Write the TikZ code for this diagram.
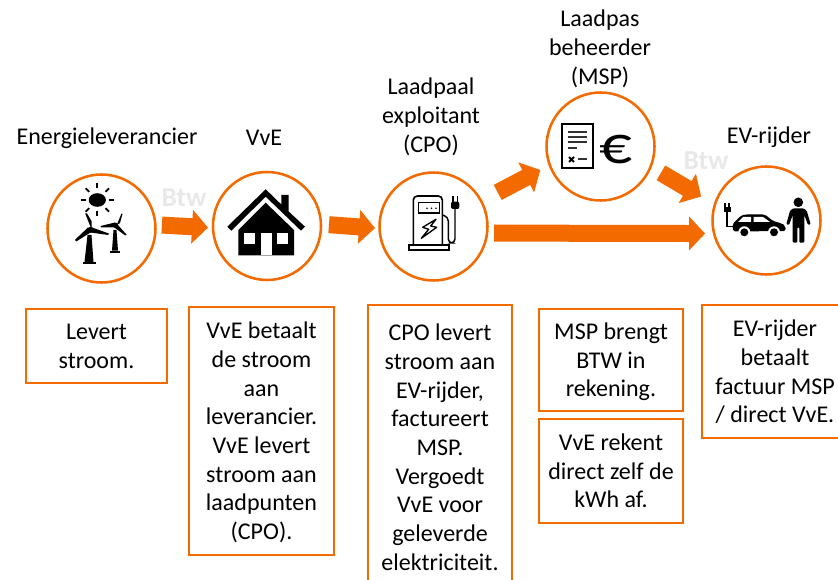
\documentclass[tikz,border=0pt]{standalone}
\usepackage{fontspec}
\setmainfont{Carlito}
\newfontfamily\eurofont[FakeStretch=1.22]{Carlito}
\usetikzlibrary{arrows.meta}
\definecolor{vveorange}{HTML}{F26A00}
\tikzset{
  ringnode/.style={circle,draw=vveorange,line width=1.9pt,minimum size=81pt,inner sep=0pt,outer sep=0pt},
  boxnode/.style={rectangle,draw=vveorange,line width=1.7pt,align=center,inner sep=0pt,outer sep=0pt,text depth=0pt},
  headtext/.style={align=center,inner sep=0pt},
  btwtext/.style={text=black!9,font=\fontsize{20.5}{21.5}\selectfont\bfseries,inner sep=0pt},
  flowarrow/.style={draw=vveorange,line width=12.75pt,-{Triangle[length=12pt,width=24.75pt]}},
}
\begin{document}
\begin{tikzpicture}[x=0.75pt,y=-0.75pt,font=\fontsize{18}{21.5}\selectfont]
    \useasboundingbox (0,0) rectangle (838,580);
    \node[ringnode] (levr) at (101.5,228.5) {};
    \node[ringnode] (vve) at (267,226) {};
    \node[ringnode] (cpo) at (433.5,226.5) {};
    \node[ringnode] (msp) at (600.5,146.5) {};
    \node[ringnode] (evr) at (766.5,220.5) {};
    \node[headtext] (levrhead) at (107,138.5) {Energieleverancier};
    \node[headtext] (vvehead) at (264,138) {VvE};
    \node[headtext] (cpohead) at (431,117) {Laadpaal\\exploitant\\(CPO)};
    \node[headtext] (msphead) at (600,49) {Laadpas\\beheerder\\(MSP)};
    \node[headtext] (evrhead) at (769,137.5) {EV-rijder};
    \node[btwtext] (btwa) at (184,198) {Btw};
    \node[btwtext] (btwb) at (706,161) {Btw};
    \draw[flowarrow,shorten <=4.9pt,shorten >=3.75pt] (levr.4) -- (vve.182);
    \draw[flowarrow,shorten <=6pt,shorten >=3.4pt] (vve.2) -- (cpo.182);
    \draw[flowarrow,shorten <=5.25pt,shorten >=6.75pt] (cpo.-7) -- (evr.194);
    \draw[flowarrow,shorten <=14pt,shorten >=8pt] (cpo.28) -- (msp.200);
    \draw[flowarrow,shorten <=9pt,shorten >=12pt] (msp.-22) -- (evr.163);
    \node[boxnode,minimum width=105.75pt,minimum height=55.5pt] (levrbox) at (96.5,346) {Levert\\stroom.};
    \node[boxnode,minimum width=108.75pt,minimum height=186pt] (vvebox) at (261.5,431) {VvE betaalt\\de stroom\\aan\\leverancier.\\VvE levert\\stroom aan\\laadpunten\\(CPO).};
    \node[boxnode,minimum width=108pt,minimum height=213pt] (cpobox) at (440,447) {CPO levert\\stroom aan\\EV-rijder,\\factureert\\MSP.\\Vergoedt\\VvE voor\\geleverde\\elektriciteit.};
    \node[boxnode,minimum width=108pt,minimum height=76.5pt] (mspbox) at (611,360) {MSP brengt\\BTW in\\rekening.};
    \node[boxnode,minimum width=108pt,minimum height=78pt] (kwhbox) at (611,471) {VvE rekent\\direct zelf de\\kWh af.};
    \node[boxnode,minimum width=109.5pt,minimum height=99.75pt] (evrbox) at (775,371.5) {EV-rijder\\betaalt\\factuur MSP\\/ direct VvE.};
    \fill (97.3,200) ellipse (8.6 and 6.8);
    \foreach \a in {0,45,...,315}
    \draw[line width=1.3pt,shift={(97.3,200)}] (\a:11.5) -- (\a:16.5);
    \fill (91.5,229.3) -- (85.2,213.5) -- (87,213.5) -- (91.5,221) -- cycle;
    \fill (92,227.5) -- (108.8,233.5) -- (108.3,235) -- (90.5,232.5) -- cycle;
    \fill (88,227.5) -- (75,239.8) -- (76.2,241.5) -- (90.5,232.5) -- cycle;
    \fill (90.5,229.8) circle (3);
    \fill (87.5,235) -- (91.5,235) -- (93.5,262) -- (84.5,262) -- cycle;
    \fill (82.5,262) rectangle (95.5,264.5);
    \fill (116.5,225.5) -- (121.5,213.5) -- (122.5,214) -- (120,223) -- cycle;
    \fill (115,222.5) -- (100.5,226) -- (101,227.3) -- (115,227.5) -- cycle;
    \fill (116.5,223.5) -- (126.5,234.5) -- (125.3,235.5) -- (113,226.5) -- cycle;
    \fill (115.3,225) circle (2.3);
    \fill (113.5,230) -- (116.5,230) -- (118,250.7) -- (112,250.7) -- cycle;
    \fill (110,250.7) rectangle (120,252.7);
    \fill (227.3,226.7) -- (265.7,189.3) -- (281.3,204.5) -- (281.3,195) -- (288.7,195) -- (288.7,211.5) -- (305,226.7) -- (301,230.7) -- (265.7,196.7) -- (231.3,230.7) -- cycle;
    \fill (265.7,202.7) -- (294,230) -- (294,255.3) -- (238.3,255.3) -- (238.3,230) -- cycle;
    \fill[white] (260.7,233.3) rectangle (271.7,255.3);
    \fill[white] (244.3,233.3) rectangle (255,244);
    \fill[white] (277.3,233.3) rectangle (288.3,244);
    \draw[line width=1.2pt,rounded corners=3pt] (413.3,245) -- (413.3,196) -- (442.3,196) -- (442.3,245);
    \draw[line width=1.2pt] (409,245) rectangle (449,250);
    \draw[line width=1.2pt] (418.3,202.7) rectangle (439.3,213.3);
    \foreach \x in {427,431.5,436}
    \fill (\x,208.3) circle (0.9);
    \draw[line width=1pt,line join=round] (436,219.3) -- (422.7,227.3) -- (428.7,229.3) -- (421.3,238.3) -- (436.7,227.3) -- (430.7,226) -- cycle;
    \draw[line width=1.1pt,rounded corners=3pt] (442.3,215) -- (448.3,217) -- (448.3,243) -- (455,243) -- (455,209);
    \fill[rounded corners=1.5pt] (451,201.7) -- (459.3,201.7) -- (459.3,209) -- (451,209) -- cycle;
    \draw[line width=1.2pt] (453,196) -- (453,202) (457.3,196) -- (457.3,202);
    \draw[line width=1.7pt,fill=white] (561.7,124.3) rectangle (592.7,168.3);
    \foreach \y in {132.3,136.7,141.7}
    \draw[line width=1.4pt,black!80] (567.7,\y) -- (587.3,\y);
    \draw[line width=1.4pt,black!80] (567.7,147.7) -- (576.7,147.7);
    \draw[line width=1.5pt] (569,157) -- (574,162) (574,157) -- (569,162);
    \draw[line width=1.4pt,black!80] (578.3,159.3) -- (587.3,159.3);
    \node[inner sep=0pt,font=\fontsize{40}{40}\selectfont\eurofont] (euro) at (615.5,150) {€};
    \fill[rounded corners=1.5pt] (732.5,224) -- (741,215.5) -- (745,214.5) -- (765,214.5) -- (773,221) -- (782,223.5) -- (785.5,226) -- (785.5,231) -- (733,231.5) -- cycle;
    \fill[white] (743,217) -- (751,217) -- (751,222) -- (738,222) -- cycle;
    \fill[white] (753.5,217) -- (763,217) -- (770,222) -- (753.5,222) -- cycle;
    \foreach \x in {744.3,774}
    {
    \fill[white] (\x,232.3) circle (6);
    \fill (\x,232.3) circle (4);
    }
    \fill (723.5,207.5) rectangle (730.5,212.5);
    \draw[line width=1.2pt] (725,203.5) -- (725,207.5) (729,203.5) -- (729,207.5);
    \draw[line width=1.1pt] (727,212) -- (727,226.7) -- (733,226.7);
    \fill (798.3,202.3) circle (4.8);
    \fill[rounded corners=0.8pt] (793.3,208.3) -- (803.3,208.3) -- (806.7,210.7) -- (810.7,224.3) -- (808,225) -- (804.3,215) -- (804.3,242.7) -- (799.3,242.7) -- (799.3,227.3) -- (797.3,227.3) -- (797.3,242.7) -- (792.7,242.7) -- (792.7,215) -- (789,225) -- (786.3,224.3) -- (790,210.7) -- cycle;
\end{tikzpicture}
\end{document}
